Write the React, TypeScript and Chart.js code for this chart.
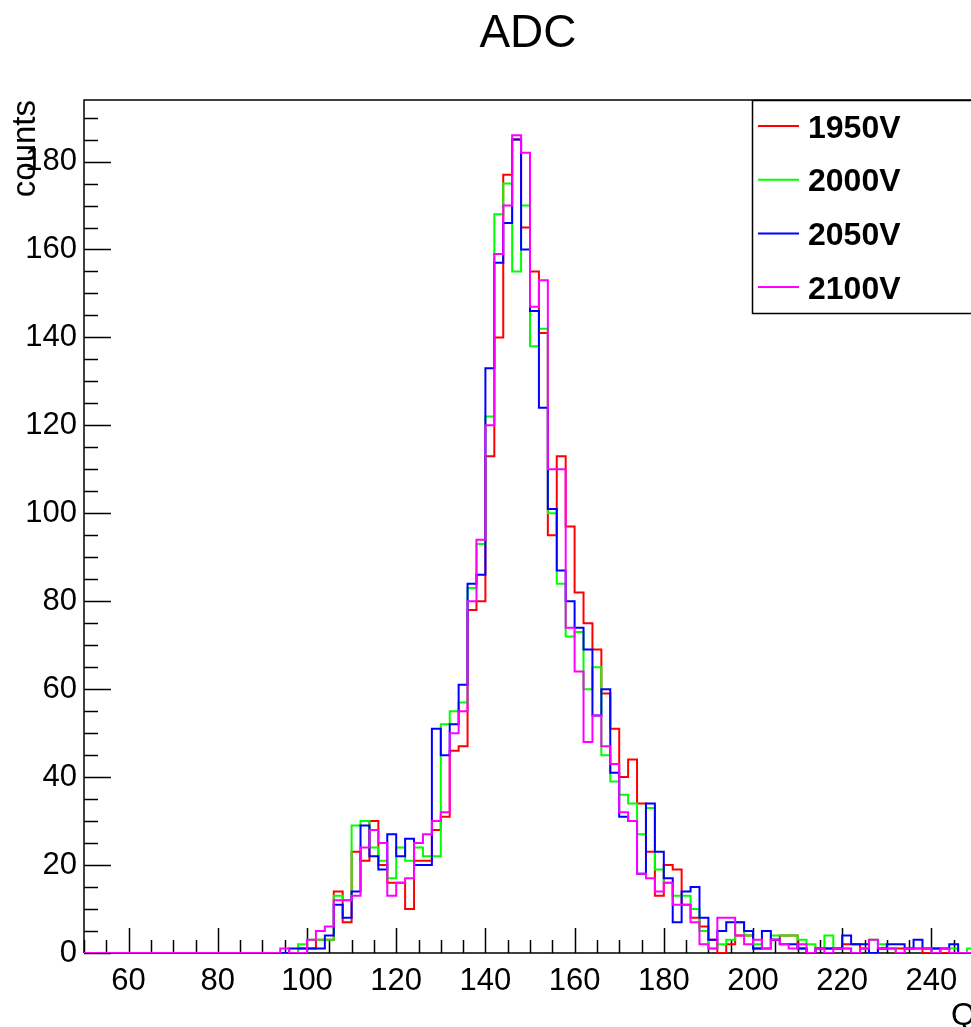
import { useEffect, useRef } from "react";
import { Chart, registerables } from "chart.js";

Chart.register(...registerables);

// ---- data ----
const BIN_START = 50;
const BIN_WIDTH = 2;
const X_MIN = 50;
const X_MAX = 250;
const Y_MAX = 194;

const SERIES_LABELS = ["1950V", "2000V", "2050V", "2100V"];
const SERIES_COLORS = ["#ff0000", "#00ff00", "#0000ff", "#ff00ff"];

const X_TICK_LABELS = [60, 80, 100, 120, 140, 160, 180, 200, 220, 240];
const Y_TICK_LABELS = [0, 20, 40, 60, 80, 100, 120, 140, 160, 180];

// bins of width 2 starting at 50 (rows of 10 bins: 50, 70, 90, ... 230)
const counts1950 = [
  0, 0, 0, 0, 0, 0, 0, 0, 0, 0,
  0, 0, 0, 0, 0, 0, 0, 0, 0, 0,
  0, 0, 0, 0, 1, 1, 3, 3, 14, 7,
  23, 21, 30, 20, 16, 16, 10, 21, 21, 28,
  31, 46, 47, 78, 80, 113, 140, 177, 185, 165,
  155, 141, 95, 113, 97, 82, 75, 69, 59, 51,
  40, 44, 34, 23, 13, 20, 19, 11, 8, 6,
  3, 0, 2, 4, 4, 1, 1, 3, 4, 4,
  1, 0, 1, 1, 1, 2, 2, 1, 0, 1,
  1, 1, 1, 1, 0, 1, 0, 0, 0, 0,
];
const counts2000 = [
  0, 0, 0, 0, 0, 0, 0, 0, 0, 0,
  0, 0, 0, 0, 0, 0, 0, 0, 0, 0,
  0, 0, 0, 0, 2, 3, 3, 3, 13, 12,
  29, 30, 24, 21, 17, 24, 21, 24, 22, 22,
  52, 55, 57, 83, 93, 122, 168, 175, 155, 170,
  138, 142, 100, 84, 72, 73, 60, 65, 45, 39,
  36, 34, 27, 33, 19, 16, 13, 13, 10, 5,
  1, 2, 3, 7, 4, 2, 1, 4, 4, 4,
  3, 2, 1, 4, 1, 1, 0, 1, 3, 2,
  1, 0, 1, 1, 1, 0, 1, 1, 0, 1,
];
const counts2050 = [
  0, 0, 0, 0, 0, 0, 0, 0, 0, 0,
  0, 0, 0, 0, 0, 0, 0, 0, 0, 0,
  0, 0, 0, 1, 1, 1, 1, 4, 11, 8,
  14, 29, 22, 19, 27, 22, 26, 20, 20, 51,
  45, 52, 61, 84, 86, 133, 157, 166, 185, 160,
  146, 124, 101, 87, 80, 74, 69, 54, 60, 41,
  31, 30, 18, 34, 23, 17, 7, 14, 15, 8,
  3, 5, 7, 7, 5, 1, 5, 3, 2, 2,
  1, 0, 1, 1, 1, 4, 2, 2, 0, 1,
  2, 2, 1, 3, 1, 1, 1, 2, 0, 0,
];
const counts2100 = [
  0, 0, 0, 0, 0, 0, 0, 0, 0, 0,
  0, 0, 0, 0, 0, 0, 0, 0, 0, 0,
  0, 0, 1, 0, 0, 3, 5, 6, 12, 12,
  13, 24, 28, 25, 13, 16, 17, 25, 27, 30,
  32, 50, 55, 80, 94, 120, 159, 170, 186, 182,
  147, 153, 110, 110, 74, 64, 48, 54, 47, 43,
  32, 30, 18, 17, 14, 16, 11, 11, 7, 2,
  1, 8, 8, 4, 2, 3, 1, 3, 2, 1,
  2, 0, 1, 0, 1, 1, 0, 1, 3, 1,
  1, 0, 1, 1, 1, 0, 1, 0, 0, 0,
];

const SERIES = [counts1950, counts2000, counts2050, counts2100];

const FONT = '"Liberation Sans", Arial, Helvetica, sans-serif';

function toSteps(vals: number[]) {
  const pts = vals.map((v, i) => ({ x: BIN_START + i * BIN_WIDTH, y: v }));
  pts.push({ x: BIN_START + vals.length * BIN_WIDTH, y: vals[vals.length - 1] });
  return pts;
}

const rootStyle: any = {
  position: "fixed",
  left: 0,
  top: 0,
  width: 971,
  height: 1027,
  overflow: "hidden",
  background: "#ffffff",
};

export default function App() {
  const ref = useRef<HTMLCanvasElement | null>(null);

  useEffect(() => {
    const canvas = ref.current;
    if (!canvas) return;

    const framePlugin = {
      id: "rootFrame",
      beforeDatasetsDraw(chart: any) {
        const { ctx, chartArea } = chart;
        const xs = chart.scales.x;
        const ys = chart.scales.y;
        ctx.save();
        ctx.strokeStyle = "#000";
        ctx.lineWidth = 1.5;
        ctx.beginPath();
        ctx.moveTo(chartArea.left, chartArea.bottom);
        ctx.lineTo(chartArea.left, chartArea.top);
        ctx.lineTo(chartArea.right, chartArea.top);
        ctx.moveTo(chartArea.left, chartArea.bottom);
        ctx.lineTo(chartArea.right, chartArea.bottom);
        ctx.stroke();
        // x ticks (inward)
        ctx.lineWidth = 1.5;
        ctx.beginPath();
        for (let v = X_MIN; v <= X_MAX; v += 5) {
          const px = Math.round(xs.getPixelForValue(v)) + 0.5;
          const len = v % 20 === 0 ? 25 : 13;
          ctx.moveTo(px, chartArea.bottom);
          ctx.lineTo(px, chartArea.bottom - len);
        }
        // y ticks (inward)
        for (let v = 0; v <= Y_MAX; v += 5) {
          const py = Math.round(ys.getPixelForValue(v)) + 0.5;
          const len = v % 20 === 0 ? 27 : 14;
          ctx.moveTo(chartArea.left, py);
          ctx.lineTo(chartArea.left + len, py);
        }
        ctx.stroke();
        ctx.restore();
      },
      afterDraw(chart: any) {
        const { ctx, chartArea } = chart;
        ctx.save();
        // title
        ctx.fillStyle = "#000";
        ctx.font = `46px ${FONT}`;
        ctx.textAlign = "center";
        ctx.textBaseline = "alphabetic";
        ctx.fillText("ADC", 528, 47);
        // y title (rotated, aligned to top)
        ctx.save();
        ctx.translate(35, chartArea.top);
        ctx.rotate(-Math.PI / 2);
        ctx.font = `33px ${FONT}`;
        ctx.textAlign = "right";
        ctx.fillText("counts", 0, 0);
        ctx.restore();
        // x title
        ctx.font = `32px ${FONT}`;
        ctx.textAlign = "right";
        ctx.fillText("Q", chartArea.right, 1025);
        // legend
        const lx = 752;
        const ly = chartArea.top;
        const lw = 260;
        const lh = 213;
        ctx.fillStyle = "#fff";
        ctx.fillRect(lx, ly, lw, lh);
        ctx.strokeStyle = "#000";
        ctx.lineWidth = 1.5;
        ctx.strokeRect(lx + 0.5, ly + 0.5, lw, lh);
        const ds = chart.data.datasets;
        ds.forEach((d: any, i: number) => {
          const cy = ly + 26 + i * 53.7;
          ctx.strokeStyle = d.borderColor;
          ctx.lineWidth = 2;
          ctx.beginPath();
          ctx.moveTo(758, cy);
          ctx.lineTo(799, cy);
          ctx.stroke();
          ctx.fillStyle = "#000";
          ctx.font = `bold 32px ${FONT}`;
          ctx.textAlign = "left";
          ctx.textBaseline = "alphabetic";
          ctx.fillText(d.label, 808, cy + 11.5);
        });
        ctx.restore();
      },
    };

    const chart = new Chart(canvas, {
      type: "line",
      data: {
        datasets: SERIES.map((vals, i) => ({
          label: SERIES_LABELS[i],
          data: toSteps(vals),
          borderColor: SERIES_COLORS[i],
          backgroundColor: SERIES_COLORS[i],
          borderWidth: 2,
          pointRadius: 0,
          fill: false,
          stepped: "before" as const,
          order: SERIES.length - i,
        })),
      },
      options: {
        animation: false,
        responsive: false,
        devicePixelRatio: 1,
        layout: { padding: { left: 0, top: 100, right: 24, bottom: 0 } },
        plugins: {
          legend: { display: false },
          title: { display: false },
          tooltip: { enabled: false },
        },
        scales: {
          x: {
            type: "linear",
            min: X_MIN,
            max: X_MAX,
            grid: { display: false, drawTicks: false },
            border: { display: false },
            ticks: {
              stepSize: 20,
              padding: 10,
              maxRotation: 0,
              autoSkip: false,
              color: "#000",
              font: { family: FONT, size: 31 },
            },
            afterBuildTicks(scale: any) {
              scale.ticks = X_TICK_LABELS.map((v) => ({ value: v }));
            },
            afterFit(scale: any) {
              scale.height = 74;
            },
          },
          y: {
            type: "linear",
            min: 0,
            max: Y_MAX,
            grid: { display: false, drawTicks: false },
            border: { display: false },
            ticks: {
              stepSize: 20,
              padding: 7,
              autoSkip: false,
              color: "#000",
              font: { family: FONT, size: 31 },
            },
            afterBuildTicks(scale: any) {
              scale.ticks = Y_TICK_LABELS.map((v) => ({ value: v }));
            },
            afterFit(scale: any) {
              scale.width = 84;
            },
          },
        },
      },
      plugins: [framePlugin],
    });

    return () => chart.destroy();
  }, []);

  return (
    <div style={rootStyle}>
      <canvas
        ref={ref}
        width={1000}
        height={1027}
        style={{ width: 1000, height: 1027, display: "block" }}
      />
    </div>
  );
}
